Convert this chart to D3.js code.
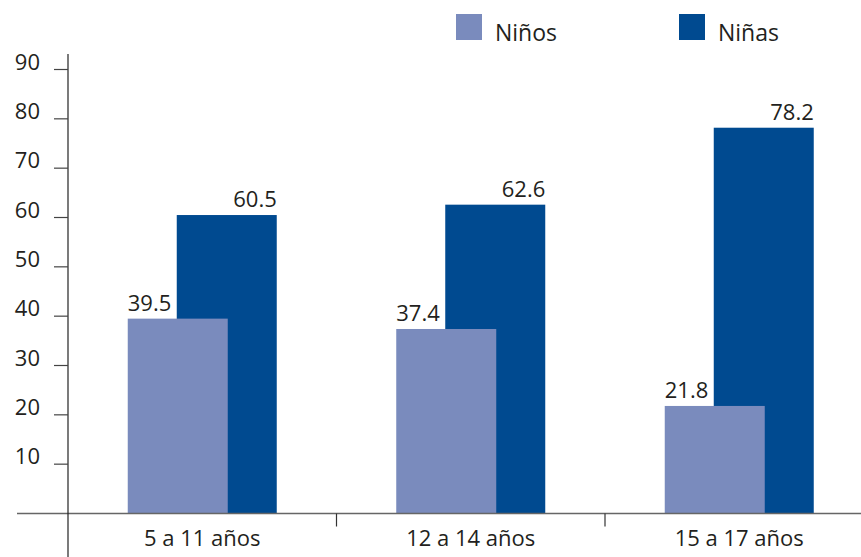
<!DOCTYPE html>
<html>
<head>
<meta charset="utf-8">
<script src="https://cdn.jsdelivr.net/npm/d3@7"></script>
<style>
  html, body { margin: 0; padding: 0; background: #fff; }
  svg { display: block; font-family: "Open Sans", sans-serif; }
</style>
</head>
<body>
<svg id="chart" width="861" height="557"></svg>
<script>
// Age groups and percentages by sex
const categories = ["5 a 11 años", "12 a 14 años", "15 a 17 años"];
const ninos = [39.5, 37.4, 21.8];
const ninas = [60.5, 62.6, 78.2];
const yTicks = [10, 20, 30, 40, 50, 60, 70, 80, 90];
const seriesNames = ["Niños", "Niñas"];
const seriesColors = ["#7a8bbd", "#004a90"];

const svg = d3.select("#chart");
const textColor = "#231f20";

const axisX = 68;
const y = d3.scaleLinear().domain([0, 90]).range([513.5, 69.5]);
const x = d3.scaleBand().domain(categories).range([axisX, 873.5]).padding(0);

const barW = 100;     // each bar
const overlap = 49;   // how far the dark bar sits to the right of the light one
const groupW = barW + overlap;

// dark bars behind, light bars in front
const layers = [
  { values: ninas, color: seriesColors[1], off: overlap, anchor: "end" },
  { values: ninos, color: seriesColors[0], off: 0, anchor: "start" }
];

layers.forEach(L => {
  svg.append("g").selectAll("rect")
    .data(categories)
    .join("rect")
    .attr("x", (c) => x(c) + x.bandwidth() / 2 - groupW / 2 + L.off)
    .attr("width", barW)
    .attr("y", (c, i) => y(L.values[i]))
    .attr("height", (c, i) => y(0) - y(L.values[i]))
    .attr("fill", L.color);
});

// value labels
layers.forEach(L => {
  svg.append("g").selectAll("text")
    .data(categories)
    .join("text")
    .attr("x", (c) => {
      const left = x(c) + x.bandwidth() / 2 - groupW / 2 + L.off;
      return L.anchor === "start" ? left : left + barW;
    })
    .attr("y", (c, i) => y(L.values[i]) - 8)
    .attr("text-anchor", L.anchor)
    .attr("font-size", 22)
    .attr("fill", textColor)
    .text((c, i) => L.values[i].toFixed(1));
});

// baseline
svg.append("line")
  .attr("x1", 17).attr("x2", 861)
  .attr("y1", y(0)).attr("y2", y(0))
  .attr("stroke", "#666").attr("stroke-width", 1.5);

// category separators
svg.append("g").selectAll("line")
  .data(categories.slice(1))
  .join("line")
  .attr("x1", c => x(c)).attr("x2", c => x(c))
  .attr("y1", y(0)).attr("y2", y(0) + 13)
  .attr("stroke", "#333").attr("stroke-width", 1.2);

// category labels
svg.append("g").selectAll("text")
  .data(categories)
  .join("text")
  .attr("x", c => x(c) + x.bandwidth() / 2)
  .attr("y", 546)
  .attr("text-anchor", "middle")
  .attr("font-size", 22)
  .attr("fill", textColor)
  .text(c => c);

// y axis
const yAxis = svg.append("g");
yAxis.append("line")
  .attr("x1", axisX).attr("x2", axisX)
  .attr("y1", 54).attr("y2", 557)
  .attr("stroke", "#222").attr("stroke-width", 1.2);
yAxis.selectAll("line.tick")
  .data(yTicks)
  .join("line")
  .attr("class", "tick")
  .attr("x1", 54).attr("x2", axisX)
  .attr("y1", d => y(d)).attr("y2", d => y(d))
  .attr("stroke", "#444").attr("stroke-width", 1.2);
yAxis.selectAll("text")
  .data(yTicks)
  .join("text")
  .attr("x", 40)
  .attr("y", d => y(d))
  .attr("text-anchor", "end")
  .attr("font-size", 22)
  .attr("fill", textColor)
  .text(d => d);

// legend
const legendX = [456, 679];
const legend = svg.append("g").selectAll("g")
  .data(seriesNames)
  .join("g")
  .attr("transform", (d, i) => `translate(${legendX[i]},14)`);
legend.append("rect")
  .attr("width", 26).attr("height", 26)
  .attr("fill", (d, i) => seriesColors[i]);
legend.append("text")
  .attr("x", 39).attr("y", 27)
  .attr("font-size", 23)
  .attr("fill", textColor)
  .text(d => d);
</script>
</body>
</html>
